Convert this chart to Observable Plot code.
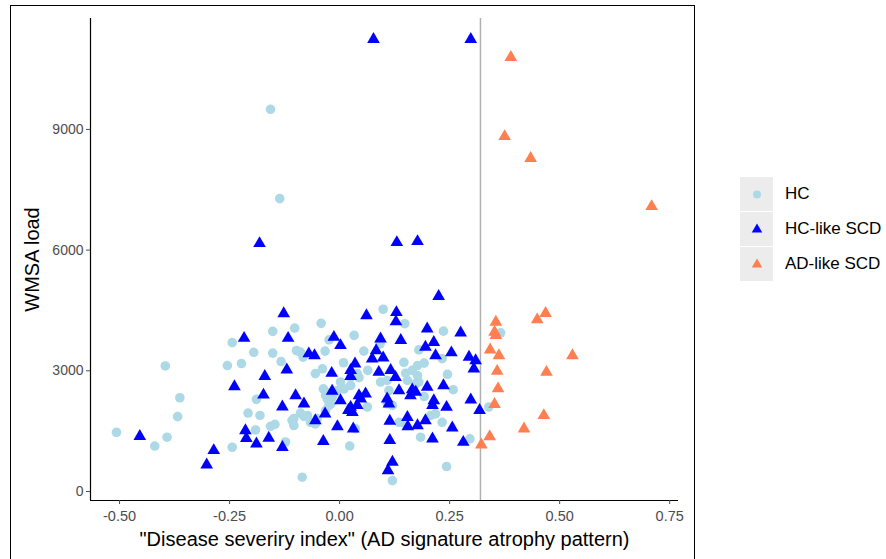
<!DOCTYPE html>
<html>
<head>
<meta charset="utf-8">
<script src="https://cdn.jsdelivr.net/npm/d3@7"></script>
<script src="https://cdn.jsdelivr.net/npm/@observablehq/plot@0.6"></script>
<style>
  html, body { margin: 0; padding: 0; background: #fff; }
  #wrap { position: relative; width: 886px; height: 559px; overflow: hidden; font-family: 'Liberation Sans', Arial, sans-serif; }
  #box { position: absolute; left: 10px; top: 5px; width: 685px; height: 620px; border: 1.5px solid #000; box-sizing: border-box; }
  #chart { position: absolute; left: 0; top: 0; }
  #legend { position: absolute; left: 740px; top: 177px; }
  .row { display: flex; align-items: center; height: 34px; margin-bottom: 1px; }
  .key { width: 33px; height: 34px; background: #ececec; display: flex; align-items: center; justify-content: center; }
  .lab { margin-left: 12px; font-size: 17px; color: #000; }
</style>
</head>
<body>
<div id="wrap">
  <div id="box"></div>
  <div id="chart"></div>
  <div id="legend"></div>
</div>
<script>
// ---- data ----
const groupNames = ["HC", "HC-like SCD", "AD-like SCD"];
const groupColors = ["lightblue", "#0000ff", "coral"];
const groupSymbols = ["circle", "triangle", "triangle"];

const hcX = [-0.157,-0.136,-0.507,-0.420,-0.392,-0.396,-0.363,-0.368,-0.244,-0.255,-0.223,-0.244,-0.152,-0.195,-0.152,-0.133,-0.189,-0.208,-0.181,-0.191,-0.157,-0.147,-0.123,-0.108,-0.102,-0.042,0.099,0.148,-0.024,0.033,0.092,0.055,-0.098,-0.089,-0.083,-0.033,0.009,0.146,-0.039,-0.055,0.040,0.044,0.064,0.150,0.165,0.177,0.192,0.093,0.108,0.112,0.002,-0.005,-0.037,-0.028,-0.020,0.063,0.120,0.180,0.192,0.245,0.258,0.236,0.180,0.233,-0.104,-0.104,-0.073,-0.066,-0.051,0.036,0.023,0.135,0.146,0.184,0.233,0.296,0.120,-0.085,0.243,0.366,0.339,-0.032,-0.017,-0.024,-0.032,-0.089,-0.081,-0.055,0.108,0.207,0.218,0.154,0.177,0.173,0.025,0.025,0.010,-0.024,-0.009];
const hcY = [9500,7280,1470,1130,1350,3120,2330,1860,3700,3130,3180,1100,3980,3460,3440,3230,2290,1950,1890,1530,1620,1670,1230,1770,4060,4180,4530,4170,3770,3880,3670,3490,3505,3463,3340,3490,3200,3210,3050,2930,2930,2830,3010,2940,3010,3130,3190,2720,2760,2510,2720,2510,2550,2300,2180,2100,2140,2720,2360,2910,2530,3985,3520,3300,1810,1640,1890,1720,1810,1560,1130,1720,1700,1350,1720,1310,270,355,620,3945,2100,2390,2340,2140,2010,1950,1865,1680,2180,1890,1930,2760,2880,2680,2840,2635,2550,2445,2470];

const hclX = [0.077,0.298,-0.182,0.130,0.177,0.225,-0.454,-0.286,-0.302,-0.217,-0.127,-0.117,-0.120,-0.170,-0.239,-0.173,-0.130,-0.214,-0.212,-0.189,-0.161,-0.130,0.061,0.129,0.128,-0.013,0.002,0.093,0.139,0.083,-0.070,-0.057,0.074,0.099,0.035,-0.018,0.025,0.089,0.116,0.127,0.135,0.165,-0.017,-0.100,-0.081,0.025,0.048,0.059,0.108,0.112,0.199,0.214,0.211,0.236,0.243,0.298,0.199,0.214,0.195,0.275,0.218,0.254,0.294,0.309,0.305,0.318,-0.005,0.031,-0.037,0.114,0.154,0.177,0.195,0.211,0.256,0.281,0.120,0.110,0.002,0.020,0.029,0.040,-0.033,-0.055,0.044,0.161,0.173,0.114,0.155,0.025];
const hclY = [11240,11240,6165,6190,6215,4850,1370,1020,665,3810,4420,3810,3025,2860,2610,2400,2105,1515,1320,1185,1325,1100,4370,4450,4220,3835,3630,3795,3755,3505,3425,3380,3300,3325,3175,2940,2860,2965,3010,2840,2510,2530,2495,2385,2180,2095,2305,2430,2305,2180,2595,2260,2140,2635,2095,2280,4045,3710,3590,3945,3380,3450,3340,3255,3050,2015,1615,1560,1245,1270,1845,1640,1765,1310,1585,1225,730,520,2260,2015,1970,2140,1930,1765,2385,2385,2470,1750,1615,3010];

const adX = [0.389,0.375,0.434,0.709,0.468,0.449,0.355,0.352,0.355,0.342,0.362,0.529,0.358,0.470,0.360,0.352,0.464,0.419,0.341,0.322];
const adY = [10790,8825,8280,7085,4430,4270,4210,3960,3880,3520,3380,3380,2990,2965,2555,2165,1890,1560,1365,1160];

const cutoff = [0.32];
const xTicks = [-0.50, -0.25, 0.00, 0.25, 0.50, 0.75];
const yTicks = [0, 3000, 6000, 9000];
const xTitle = "\"Disease severiry index\" (AD signature atrophy pattern)";
const yTitle = "WMSA load";

// ---- build tables ----
const toRows = (xs, ys) => xs.map((x, i) => ({x, y: ys[i]}));
const hc = toRows(hcX, hcY);
const hcl = toRows(hclX, hclY);
const ad = toRows(adX, adY);

const xDom = [-0.566, 0.77];
const yDom = [-224, 11757];

const chart = Plot.plot({
  width: 886,
  height: 559,
  marginLeft: 90,
  marginRight: 208,
  marginTop: 18,
  marginBottom: 59,
  x: {domain: xDom},
  y: {domain: yDom},
  style: {fontFamily: "'Liberation Sans', Arial, sans-serif", background: "transparent", overflow: "visible"},
  marks: [
    Plot.ruleX(cutoff, {stroke: "#b0b0b0", strokeWidth: 1.5}),
    Plot.dot(hc, {x: "x", y: "y", r: 4.8, fill: groupColors[0], symbol: groupSymbols[0]}),
    Plot.dot(hcl, {x: "x", y: "y", r: 4.7, fill: groupColors[1], symbol: groupSymbols[1]}),
    Plot.dot(ad, {x: "x", y: "y", r: 4.7, fill: groupColors[2], symbol: groupSymbols[2]}),
    Plot.ruleX([xDom[0]], {stroke: "#000", strokeWidth: 1.2}),
    Plot.ruleY([yDom[0]], {stroke: "#000", strokeWidth: 1.2}),
    Plot.axisX({ticks: xTicks, tickFormat: d => d.toFixed(2), tickSize: 4, tickPadding: 6, fontSize: 14.5, color: "#4d4d4d", label: null}),
    Plot.axisY({ticks: yTicks, tickFormat: d => String(d), tickSize: 4, tickPadding: 3, fontSize: 14, color: "#4d4d4d", label: null}),
    Plot.text([xTitle], {text: d => d, frameAnchor: "bottom", dy: 45, fontSize: 20, fill: "#000"}),
    Plot.text([yTitle], {text: d => d, frameAnchor: "left", textAnchor: "middle", dx: -58, rotate: -90, fontSize: 20, fill: "#000"})
  ]
});
document.getElementById("chart").appendChild(chart);

// ---- legend ----
const legend = document.getElementById("legend");
groupNames.forEach((name, i) => {
  const row = document.createElement("div");
  row.className = "row";
  const key = document.createElement("div");
  key.className = "key";
  const sym = d3.create("svg").attr("width", 14).attr("height", 14);
  const shape = groupSymbols[i] === "circle" ? d3.symbolCircle : d3.symbolTriangle;
  sym.append("path").attr("transform", "translate(7,7.5)")
    .attr("d", d3.symbol(shape, groupSymbols[i] === "circle" ? 50 : 48)())
    .attr("fill", groupColors[i]);
  key.appendChild(sym.node());
  const lab = document.createElement("div");
  lab.className = "lab";
  lab.textContent = name;
  row.appendChild(key);
  row.appendChild(lab);
  legend.appendChild(row);
});
</script>
</body>
</html>
